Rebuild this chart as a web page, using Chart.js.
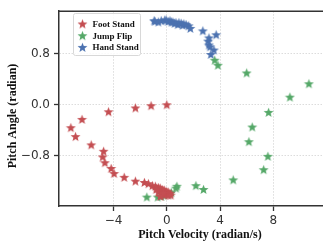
<!DOCTYPE html>
<html>
<head>
<meta charset="utf-8">
<script src="https://cdn.jsdelivr.net/npm/chart.js@4.4.1/dist/chart.umd.min.js"></script>
<style>
	html, body { margin: 0; padding: 0; overflow: hidden; background: #fff; }
</style>
</head>
<body>
<canvas id="phaseChart" width="340" height="241"></canvas>
<script>
// Foot Stand (red)
const footX = [0, -1.18, -2.36, -4.38, -6.37, -7.21, -6.86, -5.68, -4.75, -4.82, -4.65, -4.18, -3.96, -3.2, -2.36, -1.68, -1.38, -1.08, -0.86, -0.64, -0.49, -0.35, -0.2, -0.05, 0.1, 0.24, -0.64, -0.42, -0.13, 0.1, -0.27, -0.49, -0.8, 0.3];
const footY = [0, -0.015, -0.05, -0.11, -0.23, -0.36, -0.5, -0.63, -0.73, -0.82, -0.91, -1.0, -1.08, -1.14, -1.2, -1.22, -1.24, -1.27, -1.28, -1.3, -1.31, -1.33, -1.34, -1.36, -1.37, -1.39, -1.37, -1.4, -1.42, -1.42, -1.39, -1.44, -1.33, -1.42];

// Jump Flip (green)
const flipX = [-1.5, -0.68, -0.42, -0.22, 0.1, 0.34, 0.69, 0.76, 2.19, 2.76, 4.99, 7.28, 7.6, 6.17, 6.42, 7.65, 9.25, 10.68, 6.0, 3.84, 3.6];
const flipY = [-1.45, -1.45, -1.44, -1.42, -1.41, -1.38, -1.31, -1.28, -1.27, -1.33, -1.18, -1.02, -0.81, -0.58, -0.35, -0.12, 0.12, 0.33, 0.5, 0.62, 0.7];

// Hand Stand (blue)
const handX = [-0.95, -0.89, -0.64, -0.42, -0.15, -0.05, 0.1, 0.24, 0.34, 0.46, 0.59, 0.69, 0.83, 0.91, 1.08, 1.2, 1.28, 1.45, 1.65, 1.77, 2.71, 3.71, 3.17, 3.1, 3.17, 3.25, 3.54, 3.31];
const handY = [1.32, 1.31, 1.3, 1.32, 1.33, 1.33, 1.31, 1.32, 1.3, 1.3, 1.28, 1.29, 1.26, 1.29, 1.28, 1.25, 1.27, 1.26, 1.24, 1.2, 1.16, 1.1, 1.05, 1.0, 0.94, 0.91, 0.86, 0.79];

const xTicks = [-4, 0, 4, 8];
const yTicks = [-0.8, 0, 0.8];

// filled 5-point star used as the marker
function makeStar(color) {
	const c = document.createElement("canvas");
	c.width = 11;
	c.height = 11;
	const g = c.getContext("2d");
	g.beginPath();
	for (let i = 0; i < 10; i++) {
		const r = i % 2 === 0 ? 5.2 : 2.2;
		const a = -Math.PI / 2 + (i * Math.PI) / 5;
		const px = 5.5 + r * Math.cos(a);
		const py = 5.9 + r * Math.sin(a);
		if (i === 0) g.moveTo(px, py);
		else g.lineTo(px, py);
	}
	g.closePath();
	g.fillStyle = color;
	g.fill();
	return c;
}

const toPoints = (xs, ys) => xs.map((x, i) => ({ x: x, y: ys[i] }));

const series = [
	{ label: "Foot Stand", color: "#C44E52", data: toPoints(footX, footY) },
	{ label: "Jump Flip", color: "#55A868", data: toPoints(flipX, flipY) },
	{ label: "Hand Stand", color: "#4C72B0", data: toPoints(handX, handY) },
];
series.forEach((s) => (s.star = makeStar(s.color)));

// frame, axis titles and legend box
const decorPlugin = {
	id: "decor",
	afterDraw(chart) {
		const ctx = chart.ctx;
		const a = chart.chartArea;
		ctx.save();
		ctx.strokeStyle = "#333";
		ctx.lineWidth = 1.5;
		ctx.beginPath();
		ctx.moveTo(a.left, a.top);
		ctx.lineTo(a.right, a.top);
		ctx.stroke();

		ctx.fillStyle = "#111";
		ctx.font = "bold 12px 'Liberation Serif', 'Times New Roman', serif";
		ctx.textAlign = "center";
		ctx.textBaseline = "middle";
		ctx.fillText("Pitch Velocity (radian/s)", 200, 235);
		ctx.translate(12.5, 116);
		ctx.rotate(-Math.PI / 2);
		ctx.fillText("Pitch Angle (radian)", 0, 0);
		ctx.restore();

		// legend
		ctx.save();
		ctx.fillStyle = "rgba(255,255,255,0.85)";
		ctx.strokeStyle = "#d8d8d8";
		ctx.lineWidth = 1;
		ctx.beginPath();
		ctx.roundRect(73.5, 13.5, 67, 42, 2);
		ctx.fill();
		ctx.stroke();
		ctx.font = "bold 9px 'Liberation Serif', 'Times New Roman', serif";
		ctx.textAlign = "left";
		ctx.textBaseline = "middle";
		ctx.fillStyle = "#111";
		series.forEach((s, i) => {
			const yy = 24 + i * 11.7;
			ctx.drawImage(s.star, 77, yy - 5.5);
			ctx.fillText(s.label, 92.5, yy + 0.5);
		});
		ctx.restore();
	},
};

const ctx = document.getElementById("phaseChart").getContext("2d");
new Chart(ctx, {
	type: "scatter",
	data: {
		datasets: series.map((s) => ({
			label: s.label,
			data: s.data,
			pointStyle: s.star,
			backgroundColor: s.color,
			borderColor: s.color,
		})),
	},
	options: {
		responsive: false,
		animation: false,
		layout: { padding: { top: 7, left: 0, right: 0, bottom: 0 } },
		plugins: {
			legend: { display: false },
			tooltip: { enabled: false },
		},
		scales: {
			x: {
				type: "linear",
				min: -8.1,
				max: 12.64,
				afterBuildTicks: (scale) => {
					scale.ticks = xTicks.map((v) => ({ value: v }));
				},
				afterFit: (scale) => {
					scale.height = 35;
				},
				ticks: {
					color: "#333",
					font: { family: "'DejaVu Sans'", size: 12 },
					padding: 3,
					callback: (v) => (v < 0 ? "\u2212" : "") + Math.abs(v),
				},
				grid: {
					color: "#dcdcdc",
					lineWidth: 1,
					tickLength: 5,
					tickColor: "#333",
					tickWidth: 1.3,
					tickBorderDash: [],
				},
				border: { color: "#333", width: 1.5, dash: [1.5, 1.5] },
			},
			y: {
				type: "linear",
				min: -1.59,
				max: 1.47,
				afterBuildTicks: (scale) => {
					scale.ticks = yTicks.map((v) => ({ value: v }));
				},
				afterFit: (scale) => {
					scale.width = 59;
				},
				ticks: {
					color: "#333",
					font: { family: "'DejaVu Sans'", size: 12 },
					padding: 4,
					callback: (v) => (v < 0 ? "\u2212" : "") + Math.abs(v).toFixed(1),
				},
				grid: {
					color: "#dcdcdc",
					lineWidth: 1,
					tickLength: 5,
					tickColor: "#333",
					tickWidth: 1.3,
					tickBorderDash: [],
				},
				border: { color: "#333", width: 1.5, dash: [1.5, 1.5] },
			},
		},
	},
	plugins: [decorPlugin],
});
</script>
</body>
</html>
